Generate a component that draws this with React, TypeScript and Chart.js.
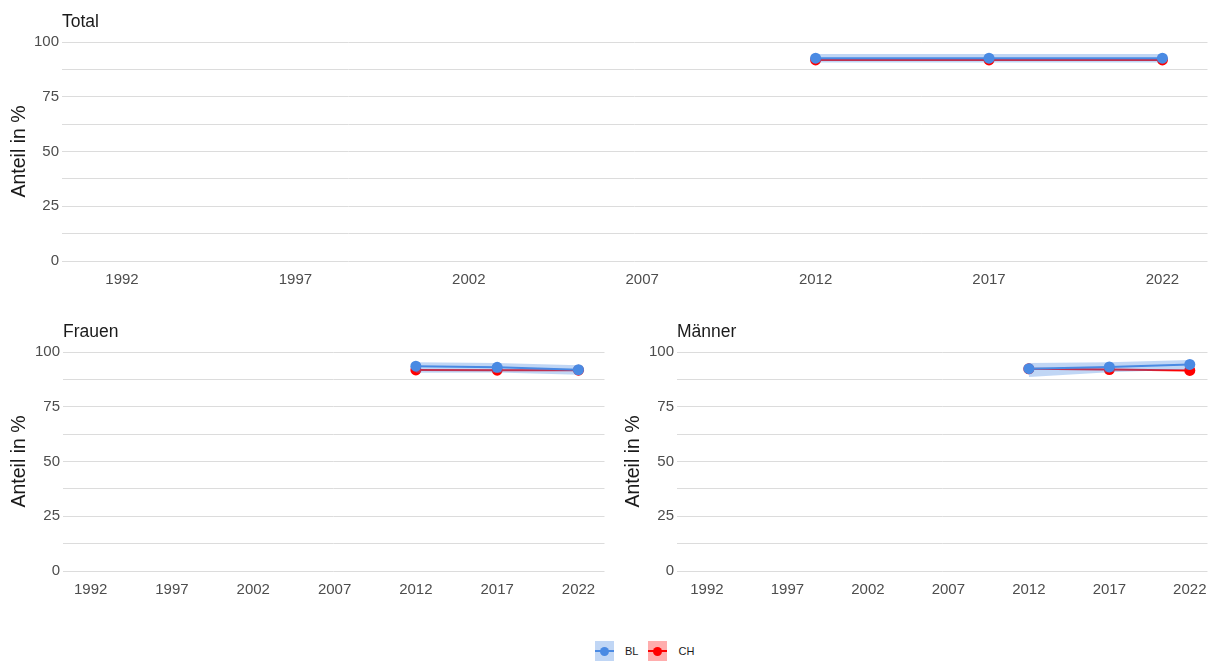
import React, { useEffect, useRef } from "react";
import { Chart, registerables } from "chart.js";

Chart.register(...registerables);

// ---- data ----
const years = [2012, 2017, 2022];
const xTickYears = [1992, 1997, 2002, 2007, 2012, 2017, 2022];

const totalBL = [92.6, 92.6, 92.6];
const totalBLLow = [90.6, 90.6, 90.6];
const totalBLHigh = [94.5, 94.5, 94.5];
const totalCH = [91.8, 91.8, 91.8];
const totalCHLow = [91.5, 91.5, 91.5];
const totalCHHigh = [92.1, 92.1, 92.1];

const frauenBL = [93.5, 93.0, 91.9];
const frauenBLLow = [90.5, 90.6, 89.6];
const frauenBLHigh = [95.3, 95.0, 93.9];
const frauenCH = [91.8, 91.7, 91.7];
const frauenCHLow = [91.4, 91.3, 91.3];
const frauenCHHigh = [92.2, 92.1, 92.1];

const maennerBL = [92.4, 93.2, 94.3];
const maennerBLLow = [88.6, 90.8, 92.0];
const maennerBLHigh = [95.0, 95.3, 96.3];
const maennerCH = [92.3, 92.0, 91.6];
const maennerCHLow = [91.9, 91.6, 91.2];
const maennerCHHigh = [92.7, 92.4, 92.0];

const BLUE = "#4a8ae3";
const BLUE_FILL = "rgba(74,138,227,0.35)";
const RED = "#ff0000";
const RED_FILL = "rgba(255,0,0,0.32)";
const FONT = "'Liberation Sans', Arial, sans-serif";

type Panel = {
  title: string;
  bl: number[]; blLow: number[]; blHigh: number[];
  ch: number[]; chLow: number[]; chHigh: number[];
};

const pts = (vals: number[]) => years.map((x, i) => ({ x, y: vals[i] }));

function makeConfig(p: Panel, yWidth: number, padRight: number, xMin: number, xMax: number): any {
  const titlePlugin = {
    id: "panelTitle",
    afterDraw(chart: any) {
      const ctx = chart.ctx;
      ctx.save();
      ctx.font = `17.5px ${FONT}`;
      ctx.fillStyle = "#1a1a1a";
      ctx.textAlign = "left";
      ctx.textBaseline = "middle";
      ctx.fillText(p.title, chart.chartArea.left, 22);
      ctx.restore();
    },
  };
  return {
    type: "line",
    data: {
      datasets: [
        { data: pts(p.chHigh), borderWidth: 0, pointRadius: 0, fill: false, order: 6, borderColor: "transparent" },
        { data: pts(p.chLow), borderWidth: 0, pointRadius: 0, fill: "-1", backgroundColor: RED_FILL, order: 5, borderColor: "transparent" },
        { data: pts(p.ch), borderColor: RED, backgroundColor: RED, borderWidth: 2, pointRadius: 5.5, pointBorderWidth: 0, pointBackgroundColor: RED, fill: false, order: 4 },
        { data: pts(p.blHigh), borderWidth: 0, pointRadius: 0, fill: false, order: 3, borderColor: "transparent" },
        { data: pts(p.blLow), borderWidth: 0, pointRadius: 0, fill: "-1", backgroundColor: BLUE_FILL, order: 2, borderColor: "transparent" },
        { data: pts(p.bl), borderColor: BLUE, backgroundColor: BLUE, borderWidth: 2, pointRadius: 5.5, pointBorderWidth: 0, pointBackgroundColor: BLUE, fill: false, order: 1 },
      ],
    },
    options: {
      animation: false,
      responsive: false,
      events: [],
      layout: { padding: { top: 42, right: padRight, left: 0, bottom: 0 } },
      plugins: { legend: { display: false }, tooltip: { enabled: false }, title: { display: false } },
      elements: { line: { tension: 0 } },
      scales: {
        x: {
          type: "linear",
          min: xMin,
          max: xMax,
          grid: { display: false, drawTicks: false },
          border: { display: false },
          afterBuildTicks: (scale: any) => {
            scale.ticks = xTickYears.map((v) => ({ value: v }));
          },
          afterFit: (scale: any) => {
            scale.height = 39;
            scale.paddingLeft = 0;
            scale.paddingRight = 0;
          },
          ticks: {
            autoSkip: false,
            maxRotation: 0,
            padding: 10,
            color: "#4d4d4d",
            font: { family: FONT, size: 15 },
            callback: (v: any) => String(v),
          },
        },
        y: {
          min: 0,
          max: 100,
          grid: { color: "#dcdcdc", lineWidth: 1, drawTicks: false },
          border: { display: false },
          afterFit: (scale: any) => {
            scale.width = yWidth;
          },
          ticks: {
            stepSize: 12.5,
            padding: 3,
            color: "#4d4d4d",
            font: { family: FONT, size: 15 },
            callback: (v: any) => (Number(v) % 25 === 0 ? String(v) : ""),
          },
          title: {
            display: true,
            text: "Anteil in %",
            color: "#1a1a1a",
            font: { family: FONT, size: 19.5 },
            padding: { top: 8, bottom: 0 },
          },
        },
      },
    },
    plugins: [titlePlugin],
  };
}

function PanelChart(props: { panel: Panel; left: number; top: number; width: number; height: number; yWidth: number; padRight: number; xMin: number; xMax: number }) {
  const ref = useRef<HTMLCanvasElement>(null);
  useEffect(() => {
    if (!ref.current) return;
    const chart = new Chart(ref.current, makeConfig(props.panel, props.yWidth, props.padRight, props.xMin, props.xMax));
    return () => chart.destroy();
  }, []);
  return (
    <canvas
      ref={ref}
      width={props.width}
      height={props.height}
      style={{ position: "absolute", left: props.left, top: props.top, width: props.width, height: props.height }}
    />
  );
}

function LegendKey(props: { color: string; fill: string }) {
  return (
    <div style={{ position: "relative", width: 19, height: 20, background: props.fill }}>
      <div style={{ position: "absolute", left: 0, right: 0, top: 9, height: 2, background: props.color }} />
      <div style={{ position: "absolute", left: 5, top: 5.5, width: 9, height: 9, borderRadius: "50%", background: props.color }} />
    </div>
  );
}

export default function App() {
  const total: Panel = { title: "Total", bl: totalBL, blLow: totalBLLow, blHigh: totalBLHigh, ch: totalCH, chLow: totalCHLow, chHigh: totalCHHigh };
  const frauen: Panel = { title: "Frauen", bl: frauenBL, blLow: frauenBLLow, blHigh: frauenBLHigh, ch: frauenCH, chLow: frauenCHLow, chHigh: frauenCHHigh };
  const maenner: Panel = { title: "Männer", bl: maennerBL, blLow: maennerBLLow, blHigh: maennerBLHigh, ch: maennerCH, chLow: maennerCHLow, chHigh: maennerCHHigh };
  return (
    <div style={{ position: "absolute", left: 0, top: 0, width: 1213, height: 662, background: "#fff", overflow: "hidden" }}>
      <PanelChart panel={total} left={0} top={0} width={1213} height={300} yWidth={62} padRight={1} xMin={1990.27} xMax={2023.3} />
      <PanelChart panel={frauen} left={0} top={310} width={610} height={300} yWidth={63} padRight={2} xMin={1990.3} xMax={2023.6} />
      <PanelChart panel={maenner} left={614} top={310} width={599} height={300} yWidth={63} padRight={1} xMin={1990.14} xMax={2023.1} />
      <div style={{ position: "absolute", left: 595, top: 641, display: "flex", alignItems: "center", fontFamily: FONT, fontSize: 11, color: "#1a1a1a" }}>
        <LegendKey color={BLUE} fill={BLUE_FILL} />
        <span style={{ marginLeft: 11, marginRight: 10 }}>BL</span>
        <LegendKey color={RED} fill={RED_FILL} />
        <span style={{ marginLeft: 11 }}>CH</span>
      </div>
    </div>
  );
}
